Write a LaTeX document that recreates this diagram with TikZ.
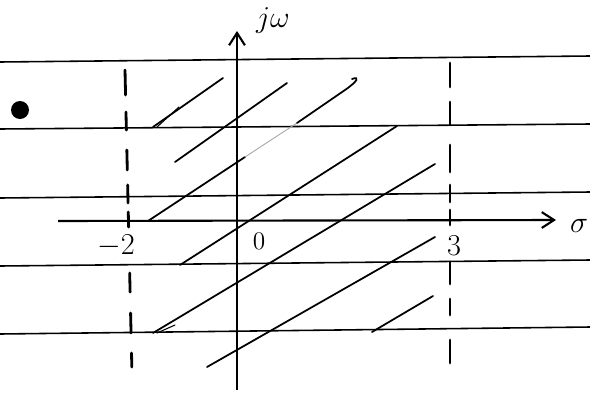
\documentclass[tikz,border=0pt]{standalone}
\usetikzlibrary{arrows.meta}

\begin{document}
\begin{tikzpicture}[
    x=0.02cm, y=-0.02cm,
    ruled/.style={draw, line width=0.9pt},
    axis/.style={draw, line width=1.2pt, -{Straight Barb[length=7pt, width=9pt, line width=1.2pt]}},
    bound/.style={draw, line width=1.6pt, line cap=round},
    hatch/.style={draw, line width=1pt, line cap=round},
    lbl/.style={font=\LARGE, inner sep=0pt}
]
    \useasboundingbox (0,0) rectangle (590,392);

    % ruled paper lines
    \draw[ruled] (0,62) -- (590,56);
    \draw[ruled] (0,129) -- (590,124);
    \draw[ruled] (0,198) -- (590,192);
    \draw[ruled] (0,266) -- (590,260);
    \draw[ruled] (0,334) -- (590,327);

    % axes
    \coordinate (sstart) at (58,221);
    \coordinate (send) at (556,220);
    \coordinate (wstart) at (237,390);
    \coordinate (wend) at (237,31);
    \draw[axis] (sstart) -- (send);
    \draw[axis] (wstart) -- (wend);
    \node[lbl] (sigma) at (579,226) {$\sigma$};
    \node[lbl] (jw) at (273,20) {$j\omega$};

    % strip boundaries, dashed by hand
    \foreach \ya/\yb in {70/95, 112/130, 150/170, 185/203, 212/227, 273/292, 313/333, 353/367}
        \draw[bound] ({125+(\ya-70)*0.023},\ya) -- ({125+(\yb-70)*0.023},\yb);
    \foreach \ya/\yb in {63/87, 102/125, 145/172, 185/202, 210/225, 262/284, 299/315, 340/363}
        \draw[bound] (450,\ya) -- (450,\yb);
    \node[lbl] (mtwo) at (116,246) {$-2$};
    \node[lbl, font=\Large] (zero) at (259,241) {0};
    \node[lbl] (three) at (454,246) {3};

    % pole
    \fill (20,110) circle (9);

    % hatching of the strip
    \draw[hatch] (153,127) -- (223,78);
    \draw[hatch, line width=0.6pt] (157,127) -- (179,107);
    \draw[hatch] (175,162) -- (287,83);
    \draw[hatch] (148,221) -- (245,157);
    \draw[hatch, black!35, line width=0.5pt] (245,157) -- (297,123);
    \draw[hatch] (297,123) -- (345,90) .. controls (358,81) and (360,76) .. (352,79);
    \draw[hatch] (180,265) -- (397,126);
    \draw[hatch] (153,333) -- (435,164);
    \draw[hatch, line width=0.6pt] (157,333) -- (175,325);
    \draw[hatch] (207,367) -- (435,237);
    \draw[hatch] (372,332) -- (433,296);
\end{tikzpicture}
\end{document}
